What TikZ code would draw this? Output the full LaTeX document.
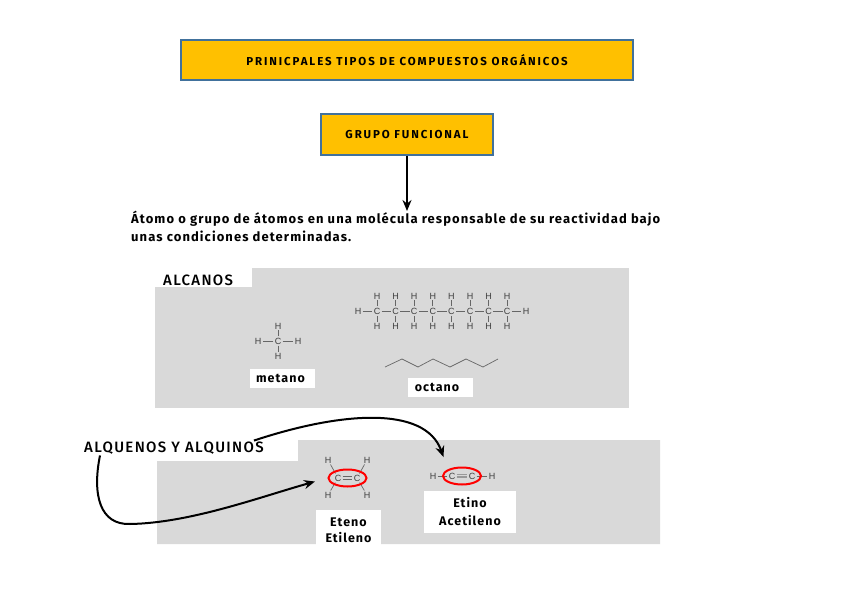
\documentclass[tikz,border=0pt]{standalone}
\usepackage{fontspec}
\setmainfont{Fira Sans}[BoldFont={Fira Sans Bold},LetterSpace=8.3]
\newfontfamily\rotulofont{Fira Sans Medium}[LetterSpace=9]
\newfontfamily\cajafont{Fira Sans Bold}[LetterSpace=16.5]
\newfontfamily\molfont{Liberation Sans}
\definecolor{oro}{HTML}{FFC000}
\definecolor{borde}{HTML}{41719C}
\definecolor{gris}{HTML}{D9D9D9}
\usetikzlibrary{shapes.geometric,arrows.meta}
\tikzset{
  caja/.style={draw=borde, line width=1.8pt, fill=oro, font=\cajafont\fontsize{11.5}{13}\selectfont},
  rotulo/.style={font=\rotulofont\fontsize{15}{17}\selectfont, inner sep=1pt},
  blanco/.style={fill=white, font=\bfseries\fontsize{12.5}{16}\selectfont, align=center, inner sep=0pt},
  atomo/.style={font=\molfont\fontsize{9}{10}\selectfont, inner sep=1.2pt, text=black!75},
  enlace/.style={black!60, line width=0.7pt},
  anillo/.style={draw=red, line width=2pt, ellipse, minimum width=38pt, minimum height=17pt, inner sep=0pt},
  flecha/.style={-{Stealth[length=11pt,width=9pt]}, line width=2pt, black}
}
\begin{document}
\begin{tikzpicture}[x=1pt,y=-1pt]
\useasboundingbox (0,0) rectangle (848,599);

% Encabezados
\node[caja, minimum width=452pt, minimum height=40pt] (titulo) at (407,60) {PRINICPALES TIPOS DE COMPUESTOS ORGÁNICOS};
\node[caja, minimum width=172pt, minimum height=41pt] (grupo) at (407,134.5) {GRUPO FUNCIONAL};
\node[font=\bfseries\fontsize{13}{18}\selectfont, align=left, inner sep=0pt, anchor=north west] (definicion) at (131,211)
  {Átomo o grupo de átomos en una molécula responsable de su reactividad bajo\\unas condiciones determinadas.};
\draw[flecha] (grupo) -- (grupo |- definicion.north);

% Alcanos
\fill[gris] (155,268) rectangle (629,408);
\fill[white] (155,268) rectangle (252,287);
\node[rotulo, anchor=west] (alcanos) at (162,280) {ALCANOS};

% metano
\node[atomo] (mc) at (278,341) {C};
\node[atomo] (mht) at (278,326) {H};
\node[atomo] (mhb) at (278,356) {H};
\node[atomo] (mhl) at (258,341) {H};
\node[atomo] (mhr) at (298,341) {H};
\foreach \h in {mht,mhb,mhl,mhr} {
    \draw[enlace] (mc) -- (\h);
}
\node[blanco, minimum width=65pt, minimum height=19pt] (metano) at (282.5,378.5) {metano\hspace{4pt}};

% octano
\foreach \n in {1,...,8} {
    \node[atomo] (c\n) at ({377+18.6*(\n-1)},311) {C};
    \node[atomo] (ht\n) at ({377+18.6*(\n-1)},296) {H};
    \node[atomo] (hb\n) at ({377+18.6*(\n-1)},326) {H};
    \draw[enlace] (c\n) -- (ht\n);
    \draw[enlace] (c\n) -- (hb\n);
}
\foreach \n [remember=\n as \a (initially 1)] in {2,...,8} {
    \draw[enlace] (c\a) -- (c\n);
}
\node[atomo] (hl) at (358,311) {H};
\node[atomo] (hr) at (526,311) {H};
\draw[enlace] (hl) -- (c1);
\draw[enlace] (c8) -- (hr);
\draw[black!60, line width=0.7pt] (385,367) -- (402,359) -- (418,367) -- (433,359) -- (450,367) -- (466,359) -- (483,367) -- (498,359);
\node[blanco, minimum width=65pt, minimum height=19pt] (octano) at (440.5,387.5) {\raisebox{-3pt}{octano}\hspace{7pt}};

% Alquenos y alquinos
\fill[gris] (157,461) -- (298,461) -- (298,440) -- (660,440) -- (660,544) -- (157,544) -- cycle;
\node[rotulo, anchor=west] (alquenos) at (83,448) {ALQUENOS Y ALQUINOS};

% eteno
\node[atomo] (ca) at (338,478) {C};
\node[atomo] (cb) at (357,478) {C};
\node[atomo] (ha) at (328,460) {H};
\node[atomo] (hc) at (328,495) {H};
\node[atomo] (hd) at (367,460) {H};
\node[atomo] (he) at (367,495) {H};
\draw[enlace] ([yshift=-1.2pt]ca.east) -- ([yshift=-1.2pt]cb.west);
\draw[enlace] ([yshift=1.2pt]ca.east) -- ([yshift=1.2pt]cb.west);
\foreach \a/\h in {ca/ha,ca/hc,cb/hd,cb/he} {
    \draw[enlace] (\a) -- (\h);
}
\node[anillo] (doble) at (347.5,478) {};
\node[blanco, minimum width=65pt, minimum height=40pt] (eteno) at (348.5,530) {Eteno\\Etileno};

% etino
\node[atomo] (cc) at (452,476) {C};
\node[atomo] (cd) at (472,476) {C};
\node[atomo] (hf) at (433,476) {H};
\node[atomo] (hg) at (492,476) {H};
\foreach \d in {-1.5,0,1.5} {
    \draw[enlace, black!40] ([yshift=\d pt]cc.east) -- ([yshift=\d pt]cd.west);
}
\draw[enlace] (hf) -- (cc);
\draw[enlace] (cd) -- (hg);
\node[anillo] (triple) at (462,476) {};
\node[blanco, minimum width=92pt, minimum height=42pt, font=\bfseries\fontsize{12.5}{18}\selectfont] (etino) at (470,512) {Etino\\Acetileno};

% Flechas curvas
\coordinate (curva) at (130,524);
\draw[flecha, shorten >=13pt] ([xshift=17pt]alquenos.south west) .. controls (92,495) and (100,525) .. (curva) .. controls (190,523) and (260,497) .. (doble.west);
\draw[flecha, shorten >=13pt] ([xshift=-11pt]alquenos.north east) .. controls (340,412) and (425,405) .. (triple.north west);
\end{tikzpicture}
\end{document}
